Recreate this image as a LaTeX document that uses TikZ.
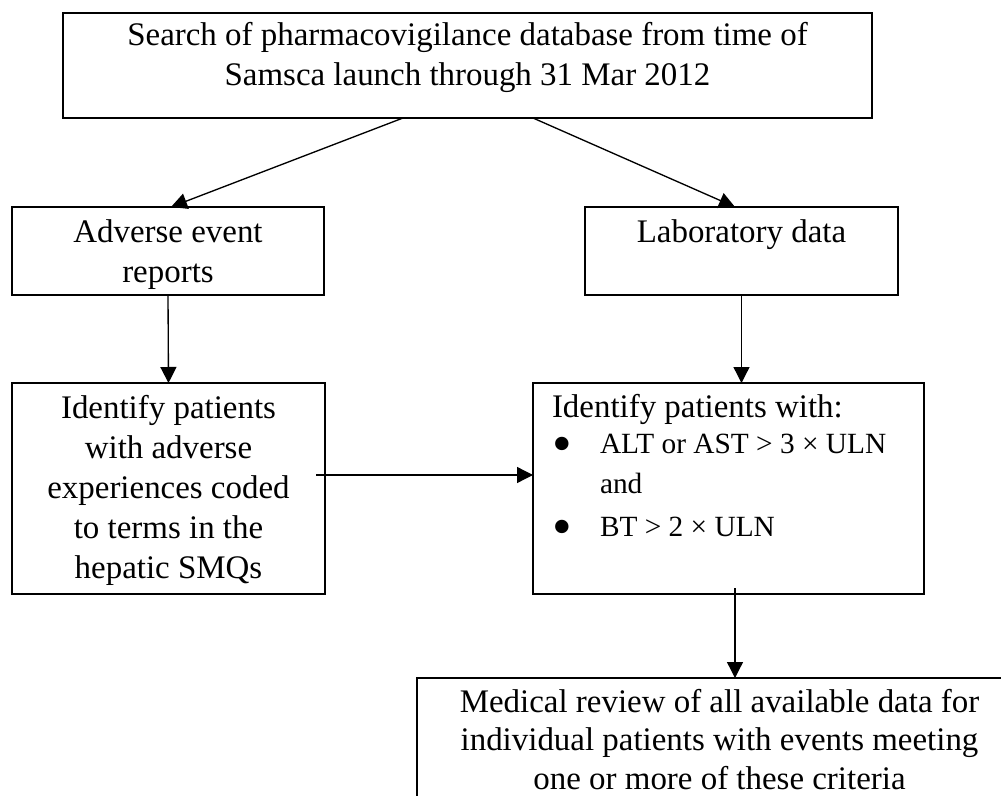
\documentclass[tikz,border=0pt]{standalone}
\usepackage{fontspec}
\setmainfont{Liberation Serif}
\usetikzlibrary{arrows.meta}

\newlength\px
\setlength\px{0.75pt}
% box contents: width, height (px), top pad, text
\newcommand\boxbody[4]{\parbox[b][#2\px][t]{#1\px}{\vspace*{#3}\centering\strut #4}}
\newcommand\bul{\makebox[36pt][l]{\raisebox{-6.5pt}{\fontsize{42}{30}\selectfont •}}}
\newcommand\itemfont{\fontsize{22}{30}\selectfont}

\begin{document}
\begin{tikzpicture}[
    x=0.75pt,
    y=-0.75pt,
    font=\fontsize{24.7}{30}\selectfont,
    box/.style={
        draw,
        line width=1.2pt,
        inner sep=0pt,
        outer sep=0pt,
        anchor=north west
    },
    flow/.style={
        line width=1pt,
        -{Triangle[length=12pt,width=12pt]}
    }
]

\useasboundingbox (0,0) rectangle (1001,796);
\clip (0,0) rectangle (1001,796);


\node[box] (search) at (63,13)
    {\boxbody{809}{105}{3pt}{Search of pharmacovigilance database from time of\\
    Samsca launch through 31 Mar 2012}};


\node[box] (adverse) at (12,207)
    {\boxbody{312}{88}{5.25pt}{Adverse event\\ reports}};
\node[box] (lab) at (585,207)
    {\boxbody{313}{88}{5.25pt}{Laboratory data}};


\node[box] (idleft) at (12,383)
    {\boxbody{313}{211}{5.25pt}{Identify patients\\ with adverse\\
    experiences coded\\ to terms in the\\ hepatic SMQs}};

\node[box] (idright) at (533,383)
    {\parbox[b][211\px][t]{391\px}{\vspace*{5pt}\raggedright\leftskip=14.25pt
    \strut Identify patients with:\\[-3pt]
    \bul{\itemfont ALT or AST > 3 × ULN}\\
    \hspace*{36pt}{\itemfont and}\\[2.25pt]
    \bul{\itemfont BT > 2 × ULN}}};


\node[box] (review) at (417,678)
    {\fontsize{24.7}{29}\selectfont
    \boxbody{605}{170}{5.25pt}{Medical review of all available data for\\
    individual patients with events meeting\\ one or more of these criteria}};


\draw[flow] ([xshift=-64.5\px]search.south) -- ([xshift=3\px]adverse.north);
\draw[flow] ([xshift=65.5\px]search.south) -- ([xshift=-6.5\px]lab.north);

\draw[flow] (adverse.south) -- (idleft.north);
\draw[flow] (lab.south) -- (lab.south |- idright.north);

\draw[flow] ([xshift=-9\px,yshift=13.5\px]idleft.east)
    -- ([yshift=13.5\px]idright.west);

\draw[flow] ([xshift=6.5\px,yshift=6\px]idright.south)
    -- ([xshift=6.5\px]idright.south |- review.north);

\end{tikzpicture}
\end{document}
